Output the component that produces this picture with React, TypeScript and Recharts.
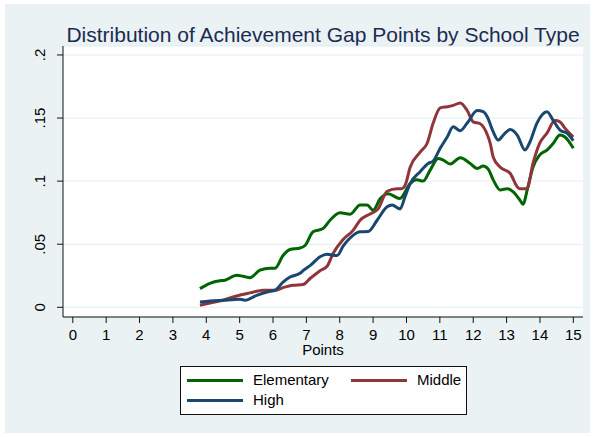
import React from 'react';
import { LineChart, Line, XAxis, YAxis, CartesianGrid } from 'recharts';

// kernel density estimates
const elementaryX = [3.81, 4.11, 4.41, 4.56, 4.91, 5.1, 5.31, 5.61, 5.91, 6.06, 6.3, 6.51, 6.81, 6.96, 7.2, 7.5, 7.71, 8.01, 8.31, 8.61, 8.82, 9.0, 9.21, 9.45, 9.8, 10.11, 10.31, 10.5, 10.71, 10.95, 11.1, 11.31, 11.61, 11.91, 12.12, 12.3, 12.45, 12.6, 12.81, 13.02, 13.2, 13.4, 13.49, 13.64, 13.79, 13.99, 14.21, 14.4, 14.6, 14.75, 15.0];
const elementaryY = [0.0148, 0.019, 0.021, 0.0214, 0.0254, 0.0246, 0.0235, 0.0294, 0.031, 0.031, 0.041, 0.0458, 0.047, 0.049, 0.0598, 0.0624, 0.069, 0.075, 0.0738, 0.081, 0.081, 0.077, 0.086, 0.09, 0.0862, 0.098, 0.101, 0.1, 0.1087, 0.118, 0.1167, 0.1135, 0.1185, 0.114, 0.11, 0.112, 0.1095, 0.101, 0.093, 0.094, 0.0915, 0.085, 0.0817, 0.0955, 0.111, 0.1206, 0.1246, 0.13, 0.1365, 0.135, 0.126];

const middleX = [3.81, 4.11, 4.5, 4.91, 5.31, 5.7, 6.06, 6.3, 6.6, 6.9, 7.11, 7.41, 7.62, 7.8, 8.1, 8.4, 8.61, 8.91, 9.15, 9.42, 9.72, 9.85, 9.96, 10.11, 10.41, 10.62, 10.8, 11.01, 11.22, 11.4, 11.61, 11.82, 12.0, 12.21, 12.42, 12.51, 12.6, 12.81, 13.11, 13.32, 13.4, 13.61, 13.79, 13.99, 14.21, 14.45, 14.6, 14.75, 15.0];
const middleY = [0.0016, 0.0034, 0.0056, 0.009, 0.0114, 0.0135, 0.0135, 0.0156, 0.0175, 0.018, 0.0228, 0.029, 0.0325, 0.0426, 0.0537, 0.061, 0.069, 0.074, 0.078, 0.092, 0.094, 0.094, 0.0968, 0.111, 0.123, 0.13, 0.146, 0.158, 0.159, 0.16, 0.162, 0.156, 0.147, 0.1455, 0.137, 0.13, 0.119, 0.111, 0.106, 0.0955, 0.094, 0.094, 0.114, 0.13, 0.138, 0.148, 0.147, 0.142, 0.135];

const highX = [3.81, 4.11, 4.5, 5.01, 5.16, 5.51, 5.91, 6.06, 6.3, 6.51, 6.81, 6.9, 7.11, 7.41, 7.62, 7.92, 8.1, 8.4, 8.61, 8.85, 9.12, 9.42, 9.57, 9.81, 9.96, 10.11, 10.41, 10.65, 10.8, 11.01, 11.22, 11.4, 11.61, 11.82, 12.12, 12.3, 12.42, 12.6, 12.75, 12.9, 13.11, 13.32, 13.55, 13.7, 13.91, 14.21, 14.4, 14.6, 14.81, 15.0];
const highY = [0.0042, 0.005, 0.0056, 0.0063, 0.0056, 0.0095, 0.0127, 0.0135, 0.02, 0.024, 0.027, 0.029, 0.033, 0.04, 0.042, 0.041, 0.0484, 0.057, 0.0598, 0.06, 0.069, 0.0796, 0.081, 0.078, 0.088, 0.098, 0.1075, 0.114, 0.116, 0.126, 0.135, 0.143, 0.14, 0.146, 0.156, 0.155, 0.151, 0.139, 0.1325, 0.1365, 0.141, 0.1365, 0.1246, 0.131, 0.146, 0.155, 0.148, 0.1405, 0.138, 0.132];

const xTicks = [0, 1, 2, 3, 4, 5, 6, 7, 8, 9, 10, 11, 12, 13, 14, 15];
const yTicks = [0, 0.05, 0.1, 0.15, 0.2];

const FONT = '"Liberation Sans", Arial, sans-serif';

const toPoints = (xs: number[], ys: number[]) => xs.map((x, i) => ({ x, y: ys[i] }));

const series = [
  { name: 'Elementary', color: '#006400', data: toPoints(elementaryX, elementaryY) },
  { name: 'Middle', color: '#90353b', data: toPoints(middleX, middleY) },
  { name: 'High', color: '#1a476f', data: toPoints(highX, highY) },
];

const fmtY = (v: number) => (v === 0 ? '0' : String(v).replace(/^0/, ''));

const YTick = (props: any) => {
  const { x, y, payload } = props;
  const bx = x - 10;
  return (
    <text x={bx} y={y} transform={`rotate(-90 ${bx} ${y})`} textAnchor="middle"
      fontSize={15} fontFamily={FONT} fill="#000">
      {fmtY(payload.value)}
    </text>
  );
};

const LegendBox = () => {
  const pos = [
    { left: 6, top: 13, textLeft: 72 },
    { left: 170, top: 13, textLeft: 236 },
    { left: 6, top: 33, textLeft: 72 },
  ];
  return (
    <div style={{
      position: 'absolute', left: 180, top: 366, width: 285, height: 47,
      border: '1px solid #111', background: '#fff', fontFamily: FONT, fontSize: 15,
    }}>
      {series.map((s, i) => (
        <React.Fragment key={s.name}>
          <div style={{ position: 'absolute', left: pos[i].left, top: pos[i].top - 1.5, width: 56, height: 3, background: s.color }} />
          <div style={{ position: 'absolute', left: pos[i].textLeft, top: pos[i].top - 9, lineHeight: '18px', color: '#000' }}>{s.name}</div>
        </React.Fragment>
      ))}
    </div>
  );
};

export default function App() {
  return (
    <div style={{ position: 'absolute', left: 0, top: 0, width: 595, height: 437, background: '#fff' }}>
      <div style={{ position: 'absolute', left: 5, top: 4, right: 5, bottom: 4, background: '#eaf2f3' }} />
      <div style={{
        position: 'absolute', left: 63, top: 24, width: 520, textAlign: 'center',
        fontFamily: FONT, fontSize: 21, lineHeight: '21px', color: '#1c2b52',
      }}>
        Distribution of Achievement Gap Points by School Type
      </div>
      <div style={{ position: 'absolute', left: 0, top: 0 }}>
        <LineChart width={595} height={437} margin={{ top: 46, right: 12, bottom: 75, left: 0 }}>
          <CartesianGrid vertical={false} stroke="#e3ecef" fill="#ffffff" fillOpacity={1} />
          <XAxis
            dataKey="x"
            type="number"
            domain={[-0.294, 15.29]}
            ticks={xTicks}
            allowDataOverflow
            height={45}
            tickSize={6}
            tickMargin={6}
            stroke="#111"
            tick={{ fill: '#000', fontSize: 15, fontFamily: FONT }}
            label={{ value: 'Points', position: 'insideBottom', offset: 7, fill: '#000', fontSize: 15, fontFamily: FONT }}
          />
          <YAxis
            type="number"
            domain={[-0.0077, 0.2071]}
            ticks={yTicks}
            allowDataOverflow
            width={63}
            tickSize={6}
            stroke="#111"
            tick={<YTick />}
          />
          {series.map(s => (
            <Line
              key={s.name}
              data={s.data}
              dataKey="y"
              name={s.name}
              type="monotone"
              stroke={s.color}
              strokeWidth={3}
              dot={false}
              activeDot={false}
              isAnimationActive={false}
            />
          ))}
        </LineChart>
      </div>
      <LegendBox />
    </div>
  );
}
